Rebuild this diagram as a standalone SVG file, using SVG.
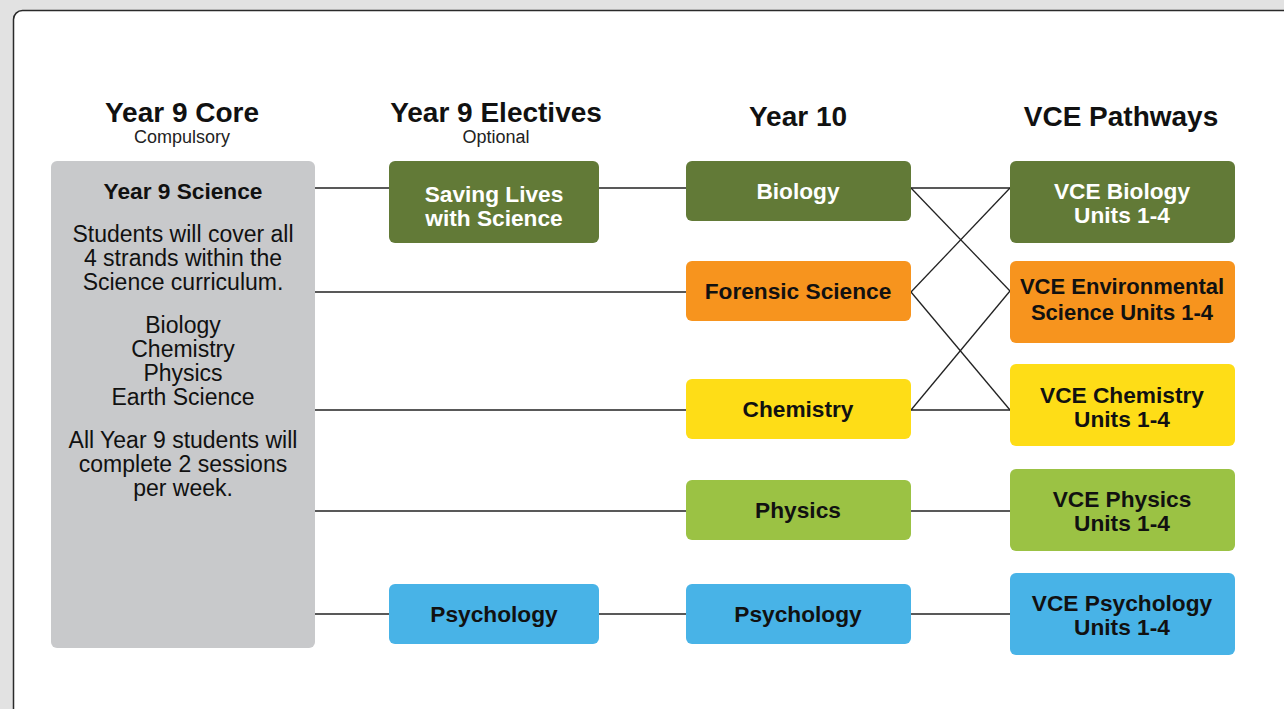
<svg xmlns="http://www.w3.org/2000/svg" width="1284" height="709" viewBox="0 0 1284 709">
<style>
text{font-family:"Liberation Sans",Arial,Helvetica,sans-serif;text-anchor:middle}
.h{font-size:28px;font-weight:bold;fill:#111}
.sub{font-size:18px;fill:#222}
.t{font-size:23px;fill:#111}
.b{font-size:22.7px;font-weight:bold}
.w{fill:#fff}
.k{fill:#111}
.c line{stroke:#222;stroke-width:1.3}
</style>
<rect x="0" y="0" width="1284" height="709" fill="#e2e2e2"/>
<rect x="13.5" y="10.5" width="1300" height="720" rx="9" fill="#fff" stroke="#2a2a2a" stroke-width="1.5"/>
<g id="headers">
<text class="h" x="182" y="122">Year 9 Core</text>
<text class="sub" x="182" y="143">Compulsory</text>
<text class="h" x="496" y="122">Year 9 Electives</text>
<text class="sub" x="496" y="143">Optional</text>
<text class="h" x="798" y="126">Year 10</text>
<text class="h" x="1121" y="126">VCE Pathways</text>
</g>
<g class="c" id="connectors">
<line x1="315" y1="188" x2="389" y2="188"/>
<line x1="599" y1="188" x2="686" y2="188"/>
<line x1="315" y1="292" x2="686" y2="292"/>
<line x1="315" y1="410" x2="686" y2="410"/>
<line x1="315" y1="511" x2="686" y2="511"/>
<line x1="911" y1="511" x2="1010" y2="511"/>
<line x1="315" y1="614" x2="389" y2="614"/>
<line x1="599" y1="614" x2="686" y2="614"/>
<line x1="911" y1="614" x2="1010" y2="614"/>
<line x1="911" y1="188" x2="1010" y2="188"/>
<line x1="911" y1="188" x2="1010" y2="291"/>
<line x1="911" y1="292" x2="1010" y2="188"/>
<line x1="911" y1="292" x2="1010" y2="410"/>
<line x1="911" y1="410" x2="1010" y2="291"/>
<line x1="911" y1="410" x2="1010" y2="410"/>
</g>
<g id="core">
<rect x="51" y="161" width="264" height="487" rx="6" fill="#c8c9cb"/>
<text class="b k" x="183" y="199">Year 9 Science</text>
<text class="t" x="183" y="242">Students will cover all</text>
<text class="t" x="183" y="266">4 strands within the</text>
<text class="t" x="183" y="290">Science curriculum.</text>
<text class="t" x="183" y="333">Biology</text>
<text class="t" x="183" y="357">Chemistry</text>
<text class="t" x="183" y="381">Physics</text>
<text class="t" x="183" y="405">Earth Science</text>
<text class="t" x="183" y="448">All Year 9 students will</text>
<text class="t" x="183" y="472">complete 2 sessions</text>
<text class="t" x="183" y="496">per week.</text>
</g>
<g id="saving-lives">
<rect x="389" y="161" width="210" height="82" rx="6" fill="#627a37"/>
<text class="b w" x="494" y="202">Saving Lives</text>
<text class="b w" x="494" y="226">with Science</text>
</g>
<g id="elective-psychology">
<rect x="389" y="584" width="210" height="60" rx="6" fill="#48b3e7"/>
<text class="b k" x="494" y="622">Psychology</text>
</g>
<g id="y10-biology">
<rect x="686" y="161" width="225" height="60" rx="6" fill="#627a37"/>
<text class="b w" x="798" y="199">Biology</text>
</g>
<g id="y10-forensic">
<rect x="686" y="261" width="225" height="60" rx="6" fill="#f7941e"/>
<text class="b k" x="798" y="299">Forensic Science</text>
</g>
<g id="y10-chemistry">
<rect x="686" y="379" width="225" height="60" rx="6" fill="#fedd17"/>
<text class="b k" x="798" y="417">Chemistry</text>
</g>
<g id="y10-physics">
<rect x="686" y="480" width="225" height="60" rx="6" fill="#9bc244"/>
<text class="b k" x="798" y="518">Physics</text>
</g>
<g id="y10-psychology">
<rect x="686" y="584" width="225" height="60" rx="6" fill="#48b3e7"/>
<text class="b k" x="798" y="622">Psychology</text>
</g>
<g id="vce-biology">
<rect x="1010" y="161" width="225" height="82" rx="6" fill="#627a37"/>
<text class="b w" x="1122" y="199">VCE Biology</text>
<text class="b w" x="1122" y="223">Units 1-4</text>
</g>
<g id="vce-environmental">
<rect x="1010" y="261" width="225" height="82" rx="6" fill="#f7941e"/>
<text class="b k" x="1122" y="294" style="font-size:22px">VCE Environmental</text>
<text class="b k" x="1122" y="320" style="font-size:22px">Science Units 1-4</text>
</g>
<g id="vce-chemistry">
<rect x="1010" y="364" width="225" height="82" rx="6" fill="#fedd17"/>
<text class="b k" x="1122" y="403">VCE Chemistry</text>
<text class="b k" x="1122" y="427">Units 1-4</text>
</g>
<g id="vce-physics">
<rect x="1010" y="469" width="225" height="82" rx="6" fill="#9bc244"/>
<text class="b k" x="1122" y="507">VCE Physics</text>
<text class="b k" x="1122" y="531">Units 1-4</text>
</g>
<g id="vce-psychology">
<rect x="1010" y="573" width="225" height="82" rx="6" fill="#48b3e7"/>
<text class="b k" x="1122" y="611">VCE Psychology</text>
<text class="b k" x="1122" y="635">Units 1-4</text>
</g>
</svg>
